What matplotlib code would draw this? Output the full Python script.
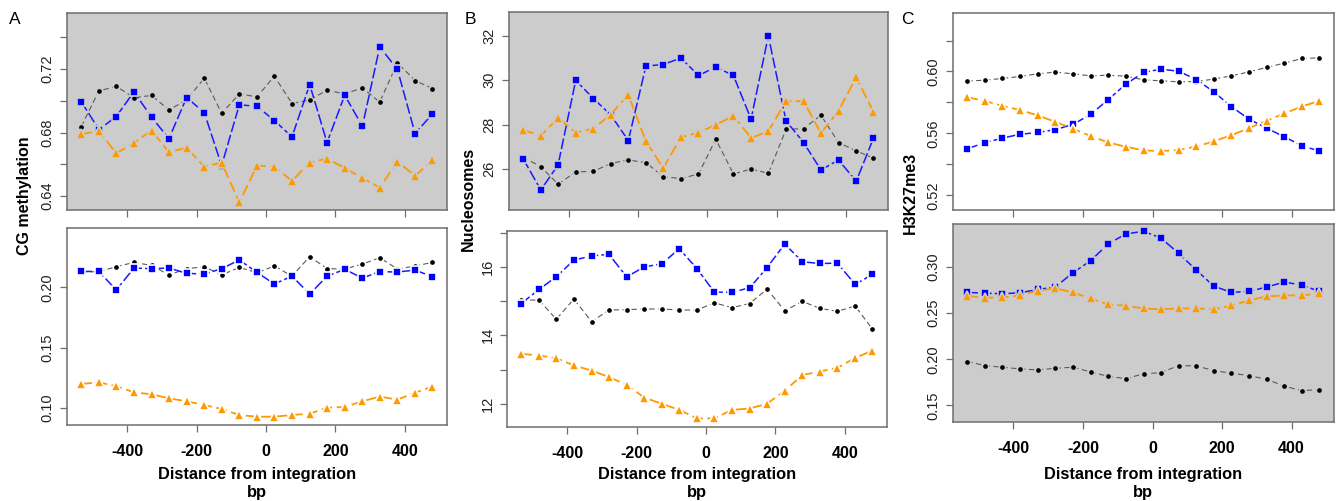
import numpy as np
import matplotlib
matplotlib.use('Agg')
import matplotlib.pyplot as plt
from matplotlib.ticker import FixedLocator, NullFormatter

plt.rcParams['font.family'] = ['Liberation Sans', 'DejaVu Sans']
plt.rcParams['axes.unicode_minus'] = False

# bin centres (bp from integration site)
distancia = [-533, -482, -432, -381, -330, -280, -229, -178, -128, -77, -26,
             24, 75, 126, 176, 227, 278, 328, 379, 430, 480]

# A - CG methylation
cg_top_preto = [0.6838, 0.7063, 0.7091, 0.7021, 0.7034, 0.6943, 0.7006, 0.7143, 0.6922, 0.7044, 0.7025,
                0.7156, 0.6983, 0.7006, 0.7067, 0.7044, 0.7082, 0.6992, 0.7240, 0.7128, 0.7078]
cg_top_azul = [0.6996, 0.6819, 0.6901, 0.7057, 0.6897, 0.6762, 0.7021, 0.6926, 0.6592, 0.6975, 0.6966,
               0.6876, 0.6773, 0.7103, 0.6737, 0.7036, 0.6840, 0.7341, 0.7198, 0.6794, 0.6918]
cg_top_laranja = [0.6789, 0.6811, 0.6669, 0.6735, 0.6813, 0.6676, 0.6705, 0.6585, 0.6611, 0.6360, 0.6592,
                  0.6585, 0.6495, 0.6611, 0.6636, 0.6577, 0.6512, 0.6453, 0.6617, 0.6528, 0.6625]
cg_bot_preto = [0.2128, 0.2131, 0.2172, 0.2208, 0.2183, 0.2103, 0.2156, 0.2172, 0.2103, 0.2167, 0.2122,
                0.2178, 0.2094, 0.2256, 0.2156, 0.2153, 0.2194, 0.2247, 0.2153, 0.2178, 0.2208]
cg_bot_azul = [0.2133, 0.2133, 0.1978, 0.2161, 0.2156, 0.2161, 0.2117, 0.2111, 0.2156, 0.2228, 0.2125,
               0.2028, 0.2094, 0.1944, 0.2094, 0.2150, 0.2078, 0.2131, 0.2128, 0.2144, 0.2089]
cg_bot_laranja = [0.1197, 0.1211, 0.1178, 0.1128, 0.1111, 0.1078, 0.1053, 0.1022, 0.0989, 0.0939, 0.0925,
                  0.0925, 0.0939, 0.0950, 0.1000, 0.1006, 0.1053, 0.1092, 0.1067, 0.1125, 0.1175]

# B - Nucleosomes
nuc_top_preto = [26.54, 26.12, 25.33, 25.88, 25.91, 26.26, 26.42, 26.30, 25.67, 25.58, 25.79,
                 27.35, 25.79, 26.01, 25.82, 27.79, 27.83, 28.43, 27.20, 26.83, 26.50]
nuc_top_azul = [26.47, 25.07, 26.20, 30.00, 29.18, 28.45, 27.29, 30.64, 30.71, 31.00, 30.22,
                30.59, 30.22, 28.25, 32.00, 28.18, 27.20, 25.97, 26.42, 25.46, 27.40]
nuc_top_laranja = [27.77, 27.50, 28.31, 27.65, 27.83, 28.46, 29.35, 27.26, 26.05, 27.44, 27.65,
                   28.00, 28.40, 27.41, 27.71, 29.06, 29.06, 27.62, 28.63, 30.13, 28.58]
nuc_bot_preto = [15.03, 15.03, 14.47, 15.06, 14.40, 14.74, 14.75, 14.77, 14.77, 14.74, 14.74,
                 14.95, 14.81, 14.93, 15.35, 14.72, 14.99, 14.79, 14.70, 14.86, 14.18]
nuc_bot_azul = [14.93, 15.34, 15.71, 16.20, 16.32, 16.37, 15.71, 16.00, 16.09, 16.53, 15.95,
                15.26, 15.26, 15.39, 15.98, 16.67, 16.15, 16.10, 16.11, 15.49, 15.78]
nuc_bot_laranja = [13.46, 13.41, 13.33, 13.12, 12.97, 12.78, 12.55, 12.18, 12.00, 11.82, 11.57,
                   11.57, 11.82, 11.86, 12.00, 12.38, 12.84, 12.94, 13.05, 13.34, 13.55]

# C - H3K27me3
k27_top_preto = [0.5938, 0.5944, 0.5955, 0.5968, 0.5985, 0.5996, 0.5985, 0.5972, 0.5976, 0.5970, 0.5946,
                 0.5940, 0.5933, 0.5935, 0.5951, 0.5972, 0.5998, 0.6026, 0.6054, 0.6084, 0.6088]
k27_top_azul = [0.5501, 0.5540, 0.5570, 0.5594, 0.5606, 0.5624, 0.5658, 0.5723, 0.5817, 0.5918, 0.5994,
                0.6015, 0.6002, 0.5948, 0.5869, 0.5772, 0.5692, 0.5634, 0.5578, 0.5520, 0.5486]
k27_top_laranja = [0.5834, 0.5809, 0.5778, 0.5751, 0.5716, 0.5675, 0.5630, 0.5583, 0.5542, 0.5514, 0.5490,
                   0.5486, 0.5492, 0.5516, 0.5548, 0.5589, 0.5634, 0.5682, 0.5729, 0.5774, 0.5811]
k27_bot_preto = [0.1975, 0.1931, 0.1913, 0.1895, 0.1884, 0.1902, 0.1913, 0.1862, 0.1815, 0.1790, 0.1841,
                 0.1855, 0.1931, 0.1928, 0.1877, 0.1848, 0.1822, 0.1783, 0.1707, 0.1659, 0.1670]
k27_bot_azul = [0.2725, 0.2717, 0.2710, 0.2721, 0.2757, 0.2783, 0.2938, 0.3069, 0.3250, 0.3359, 0.3388,
                0.3315, 0.3149, 0.2967, 0.2793, 0.2725, 0.2736, 0.2783, 0.2837, 0.2804, 0.2736]
k27_bot_laranja = [0.2685, 0.2667, 0.2670, 0.2692, 0.2743, 0.2768, 0.2725, 0.2659, 0.2594, 0.2580, 0.2551,
                   0.2540, 0.2551, 0.2551, 0.2540, 0.2583, 0.2638, 0.2681, 0.2692, 0.2692, 0.2714]

W, H = 1339, 501
CINZA = '#cccccc'
BORDA = '#6e6e6e'


def caixa(l, t, r, b):
    return [l / W, 1 - b / H, (r - l) / W, (b - t) / H]


def painel(fig, pos, fundo, series, ylim, yticks, ylabels, mostrar_x):
    ax = fig.add_axes(caixa(*pos))
    ax.set_facecolor(fundo)
    preto, azul, laranja = series
    # borda da cor do fundo imita o espaco entre linha e ponto (type="b" do R)
    ax.plot(distancia, preto, color='#5a5a5a', lw=0.8, dashes=(5, 3),
            marker='o', ms=4.6, mfc='black', mec=fundo, mew=1.2, zorder=2)
    ax.plot(distancia, azul, color='#1a1aff', lw=1.1, dashes=(7, 2),
            marker='s', ms=6.3, mfc='#0000ff', mec=fundo, mew=1.2, zorder=3)
    ax.plot(distancia, laranja, color='#ff9900', lw=1.3, dashes=(6, 2.5),
            marker='^', ms=7.6, mfc='#ff9900', mec=fundo, mew=1.2, zorder=3)
    ax.set_xlim(-574, 522)
    ax.set_ylim(*ylim)
    ax.set_xticks([-400, -200, 0, 200, 400])
    if mostrar_x:
        ax.set_xticklabels(['-400', '-200', '0', '200', '400'], fontsize=11.5, fontweight='bold')
    else:
        ax.xaxis.set_major_formatter(NullFormatter())
    ax.yaxis.set_major_locator(FixedLocator(yticks))
    ax.set_yticklabels([ylabels.get(v, '') for v in yticks], rotation=90, va='center',
                       fontsize=10.5, color='#222222')
    ax.tick_params(axis='both', direction='out', length=5, width=0.9, color=BORDA)
    ax.tick_params(axis='x', pad=9)
    ax.tick_params(axis='y', pad=4)
    for s in ax.spines.values():
        s.set_color(BORDA)
        s.set_linewidth(1.1)
    return ax


fig = plt.figure(figsize=(W / 100, H / 100), dpi=100)

# Coluna A
painel(fig, (67, 13, 447, 210), CINZA, (cg_top_preto, cg_top_azul, cg_top_laranja),
       (0.6312, 0.7554), [0.64, 0.66, 0.68, 0.70, 0.72, 0.74],
       {0.64: '0.64', 0.68: '0.68', 0.72: '0.72'}, False)
painel(fig, (67, 228, 447, 425), 'white', (cg_bot_preto, cg_bot_azul, cg_bot_laranja),
       (0.0856, 0.2494), [0.10, 0.15, 0.20],
       {0.10: '0.10', 0.15: '0.15', 0.20: '0.20'}, True)

# Coluna B
painel(fig, (509, 12, 888, 210), CINZA, (nuc_top_preto, nuc_top_azul, nuc_top_laranja),
       (24.17, 33.07), [26, 28, 30, 32],
       {26: '26', 28: '28', 30: '30', 32: '32'}, False)
painel(fig, (507, 231, 887, 427), 'white', (nuc_bot_preto, nuc_bot_azul, nuc_bot_laranja),
       (11.32, 17.05), [12, 13, 14, 15, 16, 17],
       {12: '12', 14: '14', 16: '16'}, True)

# Coluna C
painel(fig, (953, 13, 1334, 210), 'white', (k27_top_preto, k27_top_azul, k27_top_laranja),
       (0.5105, 0.6378), [0.52, 0.54, 0.56, 0.58, 0.60, 0.62],
       {0.52: '0.52', 0.56: '0.56', 0.60: '0.60'}, False)
painel(fig, (953, 224, 1334, 422), CINZA, (k27_bot_preto, k27_bot_azul, k27_bot_laranja),
       (0.1319, 0.3467), [0.15, 0.20, 0.25, 0.30],
       {0.15: '0.15', 0.20: '0.20', 0.25: '0.25', 0.30: '0.30'}, True)

# letras dos paineis
for letra, x in [('A', 15), ('B', 470), ('C', 907)]:
    fig.text(x / W, 1 - 20 / H, letra, fontsize=12.5, ha='center', va='center')

# rotulos do eixo y
for rotulo, x, y in [('CG methylation', 25, 196), ('Nucleosomes', 468, 199), ('H3K27me3', 910, 193)]:
    fig.text(x / W, 1 - y / H, rotulo, fontsize=11.5, fontweight='bold',
             rotation=90, ha='center', va='center')

# rotulos do eixo x
for centro in [257, 697, 1143]:
    fig.text(centro / W, 1 - 474 / H, 'Distance from integration', fontsize=11.8,
             fontweight='bold', ha='center', va='center')
    fig.text(centro / W, 1 - 493 / H, 'bp', fontsize=11.8, fontweight='bold',
             ha='center', va='center')

fig.savefig('out.png', dpi=100)
